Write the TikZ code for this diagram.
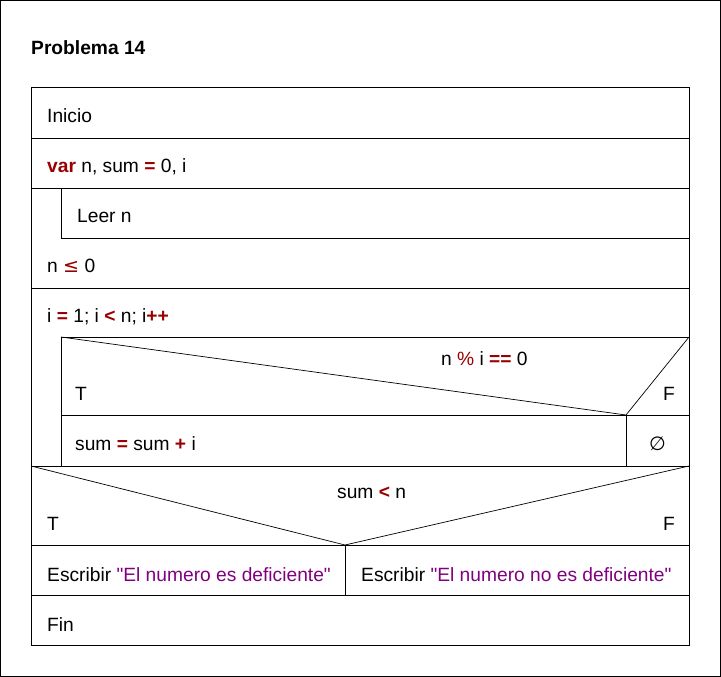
\documentclass[tikz,border=0pt]{standalone}
\usepackage{fontspec}
\setmainfont{Liberation Sans}[Ligatures=TeXOff]
\newfontfamily\symfont{DejaVu Sans}
\usepackage{xcolor}
\definecolor{opred}{HTML}{990000}
\definecolor{strpurple}{HTML}{800080}
\newcommand{\op}[1]{\textcolor{opred}{\textbf{#1}}}
\newcommand{\str}[1]{\textcolor{strpurple}{\char34 #1\char34}}

\begin{document}
\begin{tikzpicture}[x=1pt, y=-1pt,
    txt/.style={anchor=base west, inner sep=0pt, font=\fontsize{19.2}{22}\selectfont},
    frame/.style={line width=1pt},
    diag/.style={line width=0.7pt}]

    % Page border
    \draw[frame] (0.5,0.5) rectangle (720.5,676.5);
    \useasboundingbox (0,0) rectangle (721,677);

    % Title
    \node[txt, font=\fontsize{19.2}{22}\selectfont\bfseries] (title) at (31,55) {Problema 14};

    % Main frame and rows
    \draw[frame] (31,88) rectangle (689,645);
    \draw[frame] (31,138) -- (689,138);
    \draw[frame] (31,188) -- (689,188);
    \draw[frame] (61,188) -- (61,238) -- (689,238);
    \draw[frame] (31,288) -- (689,288);
    \draw[frame] (61,337) rectangle (689,466);
    \draw[frame] (61,415) -- (689,415);
    \draw[frame] (626,415) -- (626,466);
    \draw[frame] (31,466) -- (689,466);
    \draw[frame] (31,545) -- (689,545);
    \draw[frame] (345,545) -- (345,595);
    \draw[frame] (31,595) -- (689,595);

    % Decision triangles
    \draw[diag] (61,337) -- (626,415) -- (689,337);
    \draw[diag] (31,466) -- (345,545) -- (689,466);

    % Texts
    \node[txt] (inicio) at (47,122) {Inicio};
    \node[txt] (decl) at (47,172) {\op{var} n, sum \op{=} 0, i};
    \node[txt] (leer) at (77,222) {Leer n};
    \node[txt] (until) at (47,272) {n \textcolor{opred}{\symfont ≤} 0};
    \node[txt] (loop) at (47,322) {i \op{=} 1; i \op{<} n; i\op{++}};
    \node[txt] (cond1) at (441,365) {n \textcolor{opred}{\%} i \op{==} 0};
    \node[txt] (t1) at (75,400) {T};
    \node[txt] (f1) at (663,400) {F};
    \node[txt] (suma) at (75,450) {sum \op{=} sum \op{+} i};
    \node[txt] (empty) at (649,450) {{\symfont ∅}};
    \node[txt] (cond2) at (337,498) {sum \op{<} n};
    \node[txt] (t2) at (47,530) {T};
    \node[txt] (f2) at (663,530) {F};
    \node[txt] (siDef) at (47,581) {Escribir \str{El numero es deficiente}};
    \node[txt] (noDef) at (361,581) {Escribir \str{El numero no es deficiente}};
    \node[txt] (fin) at (47,631) {Fin};

\end{tikzpicture}
\end{document}
